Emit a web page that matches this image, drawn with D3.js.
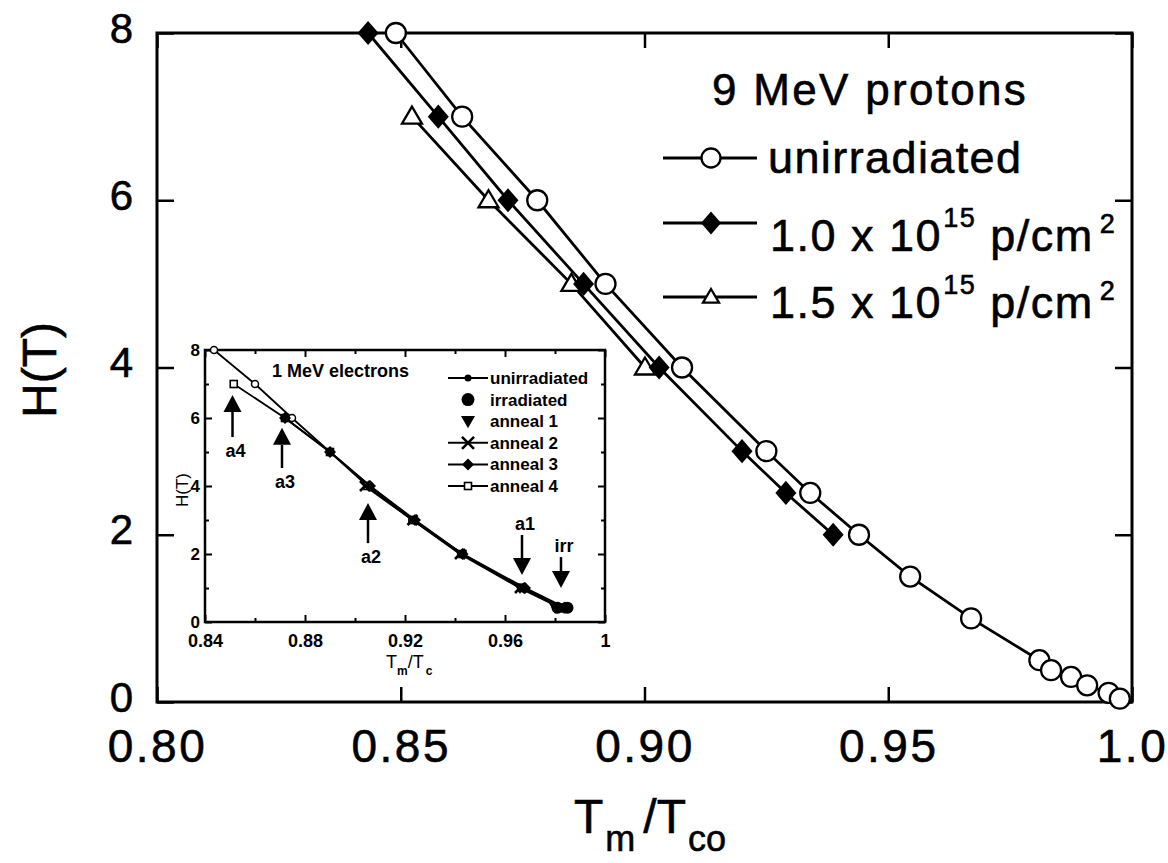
<!DOCTYPE html>
<html>
<head>
<meta charset="utf-8">
<script src="https://cdn.jsdelivr.net/npm/d3@7"></script>
<style>
body{margin:0;background:#fff;}
svg{display:block;}
text{font-family:"Liberation Sans",Arial,Helvetica,sans-serif;fill:#000;}
.heavy{stroke:#000;stroke-width:0.6px;}
</style>
</head>
<body>
<div id="chart"></div>
<script>
// ---- main plot data (9 MeV protons) ----
var unirrX = [0.849, 0.8626, 0.878, 0.892, 0.9077, 0.925, 0.934, 0.944, 0.9545, 0.967, 0.981, 0.9834, 0.9875, 0.9908, 0.9952, 0.9975];
var unirrY = [8, 7, 6, 5, 4, 3, 2.5, 2, 1.5, 1, 0.5, 0.38, 0.3, 0.2, 0.11, 0.04];
var p10X = [0.8433, 0.8577, 0.872, 0.8875, 0.903, 0.920, 0.929, 0.9387];
var p10Y = [8, 7, 6, 5, 4, 3, 2.5, 2];
var p15X = [0.8523, 0.868, 0.885, 0.9001];
var p15Y = [7, 6, 5, 4];
var xTicks = [0.80, 0.85, 0.90, 0.95, 1.0];
var xTickLabels = ["0.80", "0.85", "0.90", "0.95", "1.0"];
var yTicks = [0, 2, 4, 6, 8];

// ---- inset data (1 MeV electrons) ----
var inUnirrX = [0.8436, 0.860, 0.8748, 0.890, 0.906, 0.923, 0.943, 0.967, 0.983];
var inUnirrY = [8, 7, 6, 5, 4, 3, 2, 1, 0.4];
var inIrrX = [0.981, 0.985];
var inIrrY = [0.42, 0.42];
var inA1X = [0.966, 0.980];
var inA1Y = [1, 0.42];
var inA2X = [0.904, 0.923, 0.942, 0.966, 0.982];
var inA2Y = [4, 3, 2, 1, 0.42];
var inA3X = [0.872, 0.890, 0.906, 0.924, 0.943, 0.968, 0.984];
var inA3Y = [6, 5, 4, 3, 2, 1, 0.42];
var inA4X = [0.8515, 0.872, 0.890, 0.905, 0.923, 0.943, 0.967, 0.982];
var inA4Y = [7, 6, 5, 4, 3, 2, 1, 0.42];
var inXTicks = [0.84, 0.88, 0.92, 0.96, 1.0];
var inXTickLabels = ["0.84", "0.88", "0.92", "0.96", "1"];
var inXMinor = [0.86, 0.90, 0.94, 0.98];
var inYTicks = [0, 2, 4, 6, 8];
var inYMinor = [1, 3, 5, 7];
var inLegend = ["unirradiated", "irradiated", "anneal 1", "anneal 2", "anneal 3", "anneal 4"];

// arrows in inset: x, tail and tip in data units
var arrowLabels = ["a4", "a3", "a2", "a1", "irr"];
var arrowX = [0.851, 0.8708, 0.9052, 0.9668, 0.9824];
var arrowTail = [5.44, 4.53, 2.32, 2.56, 1.91];
var arrowTip = [6.68, 5.71, 3.5, 1.38, 1.0];

var W = 1168, H = 863;
var svg = d3.select("#chart").append("svg").attr("width", W).attr("height", H);

var x = d3.scaleLinear().domain([0.80, 1.0]).range([157, 1132]);
var y = d3.scaleLinear().domain([0, 8]).range([702, 33]);

function pts(xs, ys){ return xs.map(function(d, i){ return [d, ys[i]]; }); }

function drawMarker(g, type, s){
	if (type == "circle"){
		g.append("circle").attr("r", s).attr("fill", "#fff").attr("stroke", "#000").attr("stroke-width", 2.3);
	} else if (type == "diamond"){
		g.append("path").attr("d", "M0," + (-s*1.15) + "L" + s + ",0L0," + (s*1.15) + "L" + (-s) + ",0Z").attr("fill", "#000");
	} else if (type == "triangle"){
		g.append("path").attr("d", "M0," + (-s) + "L" + s + "," + (s*0.7) + "L" + (-s) + "," + (s*0.7) + "Z")
			.attr("fill", "#fff").attr("stroke", "#000").attr("stroke-width", 2.3);
	} else if (type == "smallCircle"){
		g.append("circle").attr("r", s).attr("fill", "#fff").attr("stroke", "#000").attr("stroke-width", 1.5);
	} else if (type == "dot"){
		g.append("circle").attr("r", s).attr("fill", "#000");
	} else if (type == "down"){
		g.append("path").attr("d", "M0," + s + "L" + s + "," + (-s*0.75) + "L" + (-s) + "," + (-s*0.75) + "Z").attr("fill", "#000");
	} else if (type == "cross"){
		g.append("path").attr("d", "M" + (-s) + "," + (-s) + "L" + s + "," + s + "M" + (-s) + "," + s + "L" + s + "," + (-s))
			.attr("stroke", "#000").attr("stroke-width", 2.6);
	} else if (type == "smallDiamond"){
		g.append("path").attr("d", "M0," + (-s) + "L" + s + ",0L0," + s + "L" + (-s) + ",0Z").attr("fill", "#000");
	} else if (type == "square"){
		g.append("rect").attr("x", -s).attr("y", -s).attr("width", 2*s).attr("height", 2*s)
			.attr("fill", "#fff").attr("stroke", "#000").attr("stroke-width", 1.6);
	}
}

function series(g, sx, sy, data, type, s, lw){
	if (lw > 0){
		g.append("path").datum(data)
			.attr("fill", "none").attr("stroke", "#000").attr("stroke-width", lw)
			.attr("d", d3.line().x(function(d){ return sx(d[0]); }).y(function(d){ return sy(d[1]); }));
	}
	g.selectAll(null).data(data).enter().append("g")
		.attr("transform", function(d){ return "translate(" + sx(d[0]) + "," + sy(d[1]) + ")"; })
		.each(function(){ drawMarker(d3.select(this), type, s); });
}

// ---------- main axes ----------
var axG = svg.append("g");
var bottomAx = axG.append("g").attr("transform", "translate(0,702)")
	.call(d3.axisBottom(x).tickValues(xTicks).tickSize(-15).tickSizeOuter(0).tickPadding(27)
		.tickFormat(function(d, i){ return xTickLabels[i]; }));
axG.append("g").attr("transform", "translate(0,33)")
	.call(d3.axisTop(x).tickValues(xTicks).tickSize(-15).tickSizeOuter(0).tickFormat(""));
var leftAx = axG.append("g").attr("transform", "translate(157,0)")
	.call(d3.axisLeft(y).tickValues(yTicks).tickSize(-17).tickSizeOuter(0).tickPadding(24));
axG.append("g").attr("transform", "translate(1132,0)")
	.call(d3.axisRight(y).tickValues(yTicks).tickSize(-17).tickSizeOuter(0).tickFormat(""));
axG.selectAll(".domain").remove();
axG.selectAll(".tick line").attr("stroke", "#000").attr("stroke-width", 2.5);
axG.selectAll(".tick text").style("font-family", "Liberation Sans, Arial, sans-serif").attr("class", "heavy");
bottomAx.selectAll(".tick text").attr("font-size", 46).attr("letter-spacing", 2.5);
leftAx.selectAll(".tick text").attr("font-size", 42).attr("dy", "0.214em");

svg.append("rect").attr("x", 157).attr("y", 33).attr("width", 1132 - 157).attr("height", 702 - 33)
	.attr("fill", "none").attr("stroke", "#000").attr("stroke-width", 3);

// axis titles
svg.append("text").attr("class", "heavy").attr("transform", "translate(56,370) rotate(-90)")
	.attr("text-anchor", "middle").attr("font-size", 48).text("H(T)");
var xt = svg.append("text").attr("class", "heavy").attr("x", 574).attr("y", 833).attr("font-size", 48);
xt.append("tspan").text("T");
xt.append("tspan").attr("font-size", 36).attr("dy", 18).attr("dx", 2).text("m");
xt.append("tspan").attr("dy", -18).attr("dx", 8).text("/T");
xt.append("tspan").attr("font-size", 36).attr("dy", 18).attr("dx", 2).text("co");

// ---------- main series ----------
var mg = svg.append("g");
series(mg, x, y, pts(p15X, p15Y), "triangle", 10, 2.8);
series(mg, x, y, pts(p10X, p10Y), "diamond", 10.5, 2.8);
series(mg, x, y, pts(unirrX, unirrY), "circle", 10, 2.8);

// ---------- main legend ----------
var lg = svg.append("g");
lg.append("text").attr("class", "heavy").attr("x", 712).attr("y", 105).attr("font-size", 44).attr("letter-spacing", 2.3).text("9 MeV protons");
var legRows = [158, 223, 297];
var legTypes = ["circle", "diamond", "triangle"];
var legSizes = [9.5, 10, 8];
legRows.forEach(function(ry, i){
	lg.append("line").attr("x1", 663).attr("x2", 757).attr("y1", ry).attr("y2", ry)
		.attr("stroke", "#000").attr("stroke-width", 2.8);
	var mk = lg.append("g").attr("transform", "translate(711," + ry + ")");
	drawMarker(mk, legTypes[i], legSizes[i]);
});
lg.append("text").attr("class", "heavy").attr("x", 768).attr("y", 173).attr("font-size", 45).attr("letter-spacing", 1.4).text("unirradiated");
["1.0", "1.5"].forEach(function(v, i){
	var t = lg.append("text").attr("class", "heavy").attr("x", 770).attr("y", [251, 318][i]).attr("font-size", 45).attr("letter-spacing", 1.5);
	t.append("tspan").text(v + " x 10");
	t.append("tspan").attr("font-size", 27).attr("dy", -24).attr("dx", 1).text("15");
	t.append("tspan").attr("dy", 24).text(" p/cm");
	t.append("tspan").attr("font-size", 27).attr("dy", -18).attr("dx", 6).text("2");
});

// ---------- inset ----------
var xi = d3.scaleLinear().domain([0.84, 1.0]).range([205, 605]);
var yi = d3.scaleLinear().domain([0, 8]).range([622, 350]);
var ig = svg.append("g");
ig.append("rect").attr("x", 205).attr("y", 350).attr("width", 400).attr("height", 272).attr("fill", "#fff");

var iax = ig.append("g");
var bx = iax.append("g").attr("transform", "translate(0,622)")
	.call(d3.axisBottom(xi).tickValues(inXTicks).tickSize(-7).tickSizeOuter(0).tickPadding(12)
		.tickFormat(function(d, i){ return inXTickLabels[i]; }));
bx.selectAll(".tick text").attr("font-size", 18).attr("font-weight", "bold");
iax.append("g").attr("transform", "translate(0,622)")
	.call(d3.axisBottom(xi).tickValues(inXMinor).tickSize(-4).tickSizeOuter(0).tickFormat(""));
iax.append("g").attr("transform", "translate(0,350)")
	.call(d3.axisTop(xi).tickValues(inXTicks).tickSize(-7).tickSizeOuter(0).tickFormat(""));
iax.append("g").attr("transform", "translate(0,350)")
	.call(d3.axisTop(xi).tickValues(inXMinor).tickSize(-4).tickSizeOuter(0).tickFormat(""));
var ly = iax.append("g").attr("transform", "translate(205,0)")
	.call(d3.axisLeft(yi).tickValues(inYTicks).tickSize(-7).tickSizeOuter(0).tickPadding(5));
ly.selectAll(".tick text").attr("font-size", 17).attr("font-weight", "bold");
iax.append("g").attr("transform", "translate(205,0)")
	.call(d3.axisLeft(yi).tickValues(inYMinor).tickSize(-4).tickSizeOuter(0).tickFormat(""));
iax.append("g").attr("transform", "translate(605,0)")
	.call(d3.axisRight(yi).tickValues(inYTicks).tickSize(-7).tickSizeOuter(0).tickFormat(""));
iax.append("g").attr("transform", "translate(605,0)")
	.call(d3.axisRight(yi).tickValues(inYMinor).tickSize(-4).tickSizeOuter(0).tickFormat(""));
iax.selectAll(".domain").remove();
iax.selectAll(".tick line").attr("stroke", "#000").attr("stroke-width", 2);
iax.selectAll(".tick text").style("font-family", "Liberation Sans, Arial, sans-serif");

ig.append("rect").attr("x", 205).attr("y", 350).attr("width", 400).attr("height", 272)
	.attr("fill", "none").attr("stroke", "#000").attr("stroke-width", 2.5);

ig.append("text").attr("transform", "translate(188,490) rotate(-90)")
	.attr("text-anchor", "middle").attr("font-size", 17).text("H(T)");
var ixt = ig.append("text").attr("x", 386).attr("y", 668).attr("font-size", 18);
ixt.append("tspan").text("T");
ixt.append("tspan").attr("font-size", 12).attr("dy", 7).attr("font-weight", "bold").text("m");
ixt.append("tspan").attr("dy", -7).text("/T");
ixt.append("tspan").attr("font-size", 12).attr("dy", 7).attr("dx", 2).attr("font-weight", "bold").text("c");

// inset series
series(ig, xi, yi, pts(inUnirrX, inUnirrY), "smallCircle", 3.5, 1.8);
series(ig, xi, yi, pts(inA4X, inA4Y), "square", 3.5, 1.8);
series(ig, xi, yi, pts(inA3X, inA3Y), "smallDiamond", 6, 2);
series(ig, xi, yi, pts(inA2X, inA2Y), "cross", 5, 2);
series(ig, xi, yi, pts(inA1X, inA1Y), "down", 6, 0);
series(ig, xi, yi, pts(inIrrX, inIrrY), "dot", 6, 0);

// arrows
arrowLabels.forEach(function(lab, i){
	var ax = xi(arrowX[i]), y0 = yi(arrowTail[i]), y1 = yi(arrowTip[i]);
	var dir = y1 < y0 ? -1 : 1;
	var head = 17;
	ig.append("line").attr("x1", ax).attr("x2", ax).attr("y1", y0).attr("y2", y1 - dir*head)
		.attr("stroke", "#000").attr("stroke-width", 2.5);
	ig.append("path").attr("d", "M" + ax + "," + y1 + "L" + (ax + 9) + "," + (y1 - dir*head) + "L" + (ax - 9) + "," + (y1 - dir*head) + "Z")
		.attr("fill", "#000");
	ig.append("text").attr("x", ax + 3).attr("y", dir < 0 ? y0 + 20 : y0 - 5)
		.attr("text-anchor", "middle").attr("font-size", 18).attr("font-weight", "bold").text(lab);
});

// inset legend
ig.append("text").attr("x", 272).attr("y", 377).attr("font-size", 18).attr("font-weight", "bold").text("1 MeV electrons");
var ilTypes = ["dot", "dot", "down", "cross", "smallDiamond", "square"];
var ilSizes = [3.5, 6.5, 7, 6, 6, 3.5];
var ilLine = [true, false, false, true, true, true];
inLegend.forEach(function(lab, i){
	var ry = 378 + i*21.6;
	if (ilLine[i]){
		ig.append("line").attr("x1", 448).attr("x2", 488).attr("y1", ry).attr("y2", ry)
			.attr("stroke", "#000").attr("stroke-width", 2);
	}
	drawMarker(ig.append("g").attr("transform", "translate(468," + ry + ")"), ilTypes[i], ilSizes[i]);
	ig.append("text").attr("x", 490).attr("y", ry + 6).attr("font-size", 17).attr("font-weight", "bold").text(lab);
});
</script>
</body>
</html>
